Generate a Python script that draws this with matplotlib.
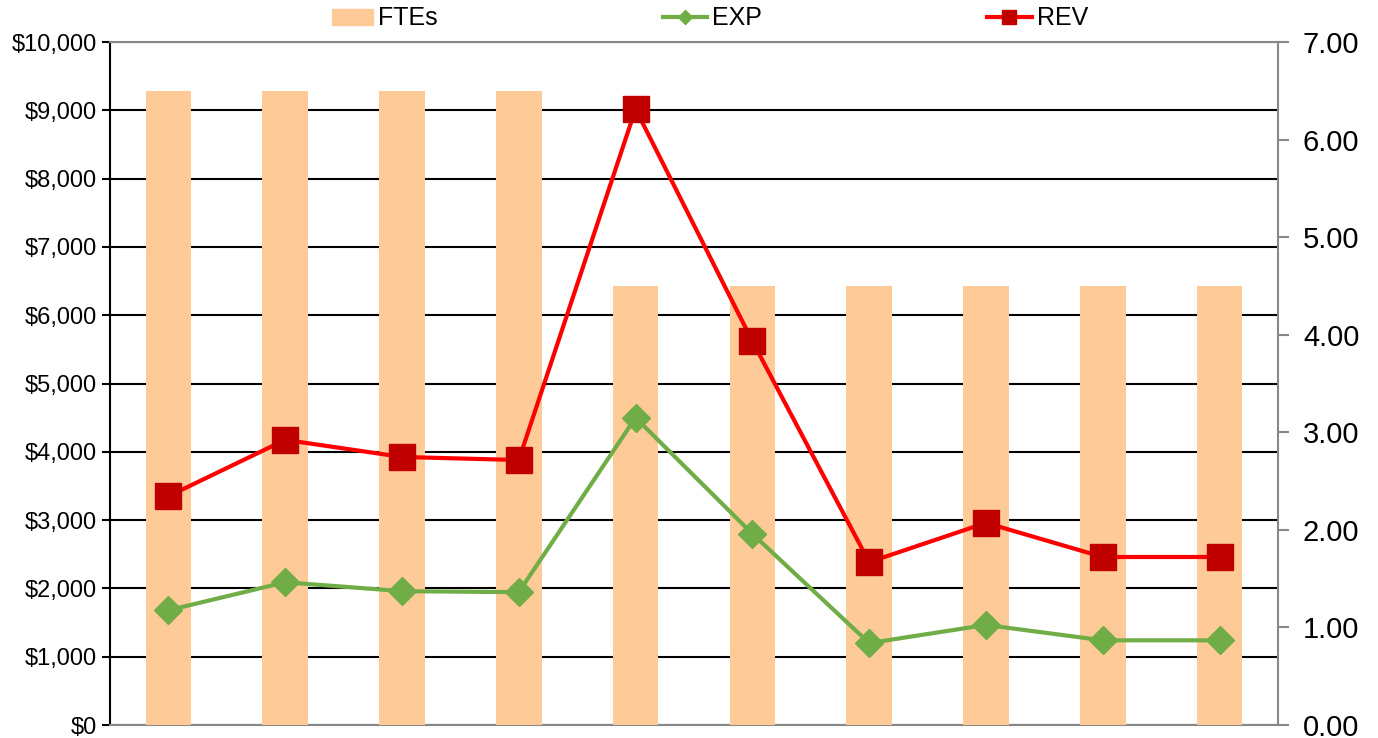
import numpy as np
import matplotlib.pyplot as plt
from matplotlib.patches import Patch
from matplotlib.lines import Line2D
from matplotlib.ticker import FuncFormatter

plt.rcParams['font.family'] = ['Liberation Sans', 'DejaVu Sans']

# datos
periodos = list(range(10))
ftes = [6.5, 6.5, 6.5, 6.5, 4.5, 4.5, 4.5, 4.5, 4.5, 4.5]
exp = [1680, 2090, 1960, 1945, 4500, 2800, 1200, 1465, 1240, 1240]
rev = [3350, 4175, 3925, 3880, 9020, 5620, 2385, 2960, 2460, 2460]

c_bar = "#FECB98"
c_exp = "#70AD47"
c_rev = "#FF0000"
c_rev_mk = "#C00000"

fig = plt.figure(figsize=(13.78, 7.38), dpi=100)
ax1 = fig.add_axes([0.0798, 0.0176, 0.8476, 0.9254])
ax2 = ax1.twinx()
ax3 = ax1.twinx()

# eje izquierdo: dolares + rejilla
ax1.set_xlim(-0.5, 9.5)
ax1.set_ylim(0, 10000)
ax1.set_yticks(np.arange(0, 10001, 1000))
ax1.yaxis.set_major_formatter(FuncFormatter(lambda v, p: f"${v:,.0f}"))
ax1.grid(axis="y", color="black", linewidth=1.5)
ax1.set_axisbelow(True)
ax1.tick_params(axis="y", labelsize=17, direction="out", length=6, width=1.5)
ax1.tick_params(axis="x", bottom=False, labelbottom=False)
ax1.spines["top"].set_color("#888888")
ax1.spines["bottom"].set_color("#888888")
ax1.spines["left"].set_linewidth(1.5)
ax1.spines["top"].set_linewidth(1.5)
ax1.spines["bottom"].set_linewidth(1.5)
ax1.spines["right"].set_visible(False)

# eje derecho: FTEs
ax2.bar(periodos, ftes, width=0.39, color=c_bar, zorder=2)
ax2.set_ylim(0, 7)
ax2.set_yticks(np.arange(0, 7.01, 1))
ax2.yaxis.set_major_formatter(FuncFormatter(lambda v, p: f"{v:.2f}"))
ax2.tick_params(axis="y", labelsize=21, direction="out", length=8, width=1.5,
                color="#888888", pad=10)
for s in ["top", "bottom", "left"]:
    ax2.spines[s].set_visible(False)
ax2.spines["right"].set_color("#888888")
ax2.spines["right"].set_linewidth(1.5)

# lineas sobre las barras
ax3.set_ylim(0, 10000)
ax3.plot(periodos, exp, color=c_exp, linewidth=3, marker="D", markersize=14,
         markerfacecolor=c_exp, markeredgecolor=c_exp)
ax3.plot(periodos, rev, color=c_rev, linewidth=3, marker="s", markersize=19,
         markerfacecolor=c_rev_mk, markeredgecolor=c_rev_mk)
ax3.axis("off")

# leyendas
h_fte = Patch(facecolor=c_bar, edgecolor=c_bar)
h_exp = Line2D([], [], color=c_exp, linewidth=3, marker="D", markersize=7)
h_rev = Line2D([], [], color=c_rev, linewidth=3, marker="s", markersize=10,
               markerfacecolor=c_rev_mk, markeredgecolor=c_rev_mk)
for h, lab, x, hl in [(h_fte, "FTEs", 0.241, 1.64), (h_exp, "EXP", 0.481, 1.76),
                      (h_rev, "REV", 0.716, 1.8)]:
    fig.legend([h], [lab], loc="center left", bbox_to_anchor=(x, 0.975),
               frameon=False, fontsize=18, borderpad=0, borderaxespad=0,
               handlelength=hl, handletextpad=0.2, handleheight=0.6)

plt.savefig("out.png", dpi=100)
